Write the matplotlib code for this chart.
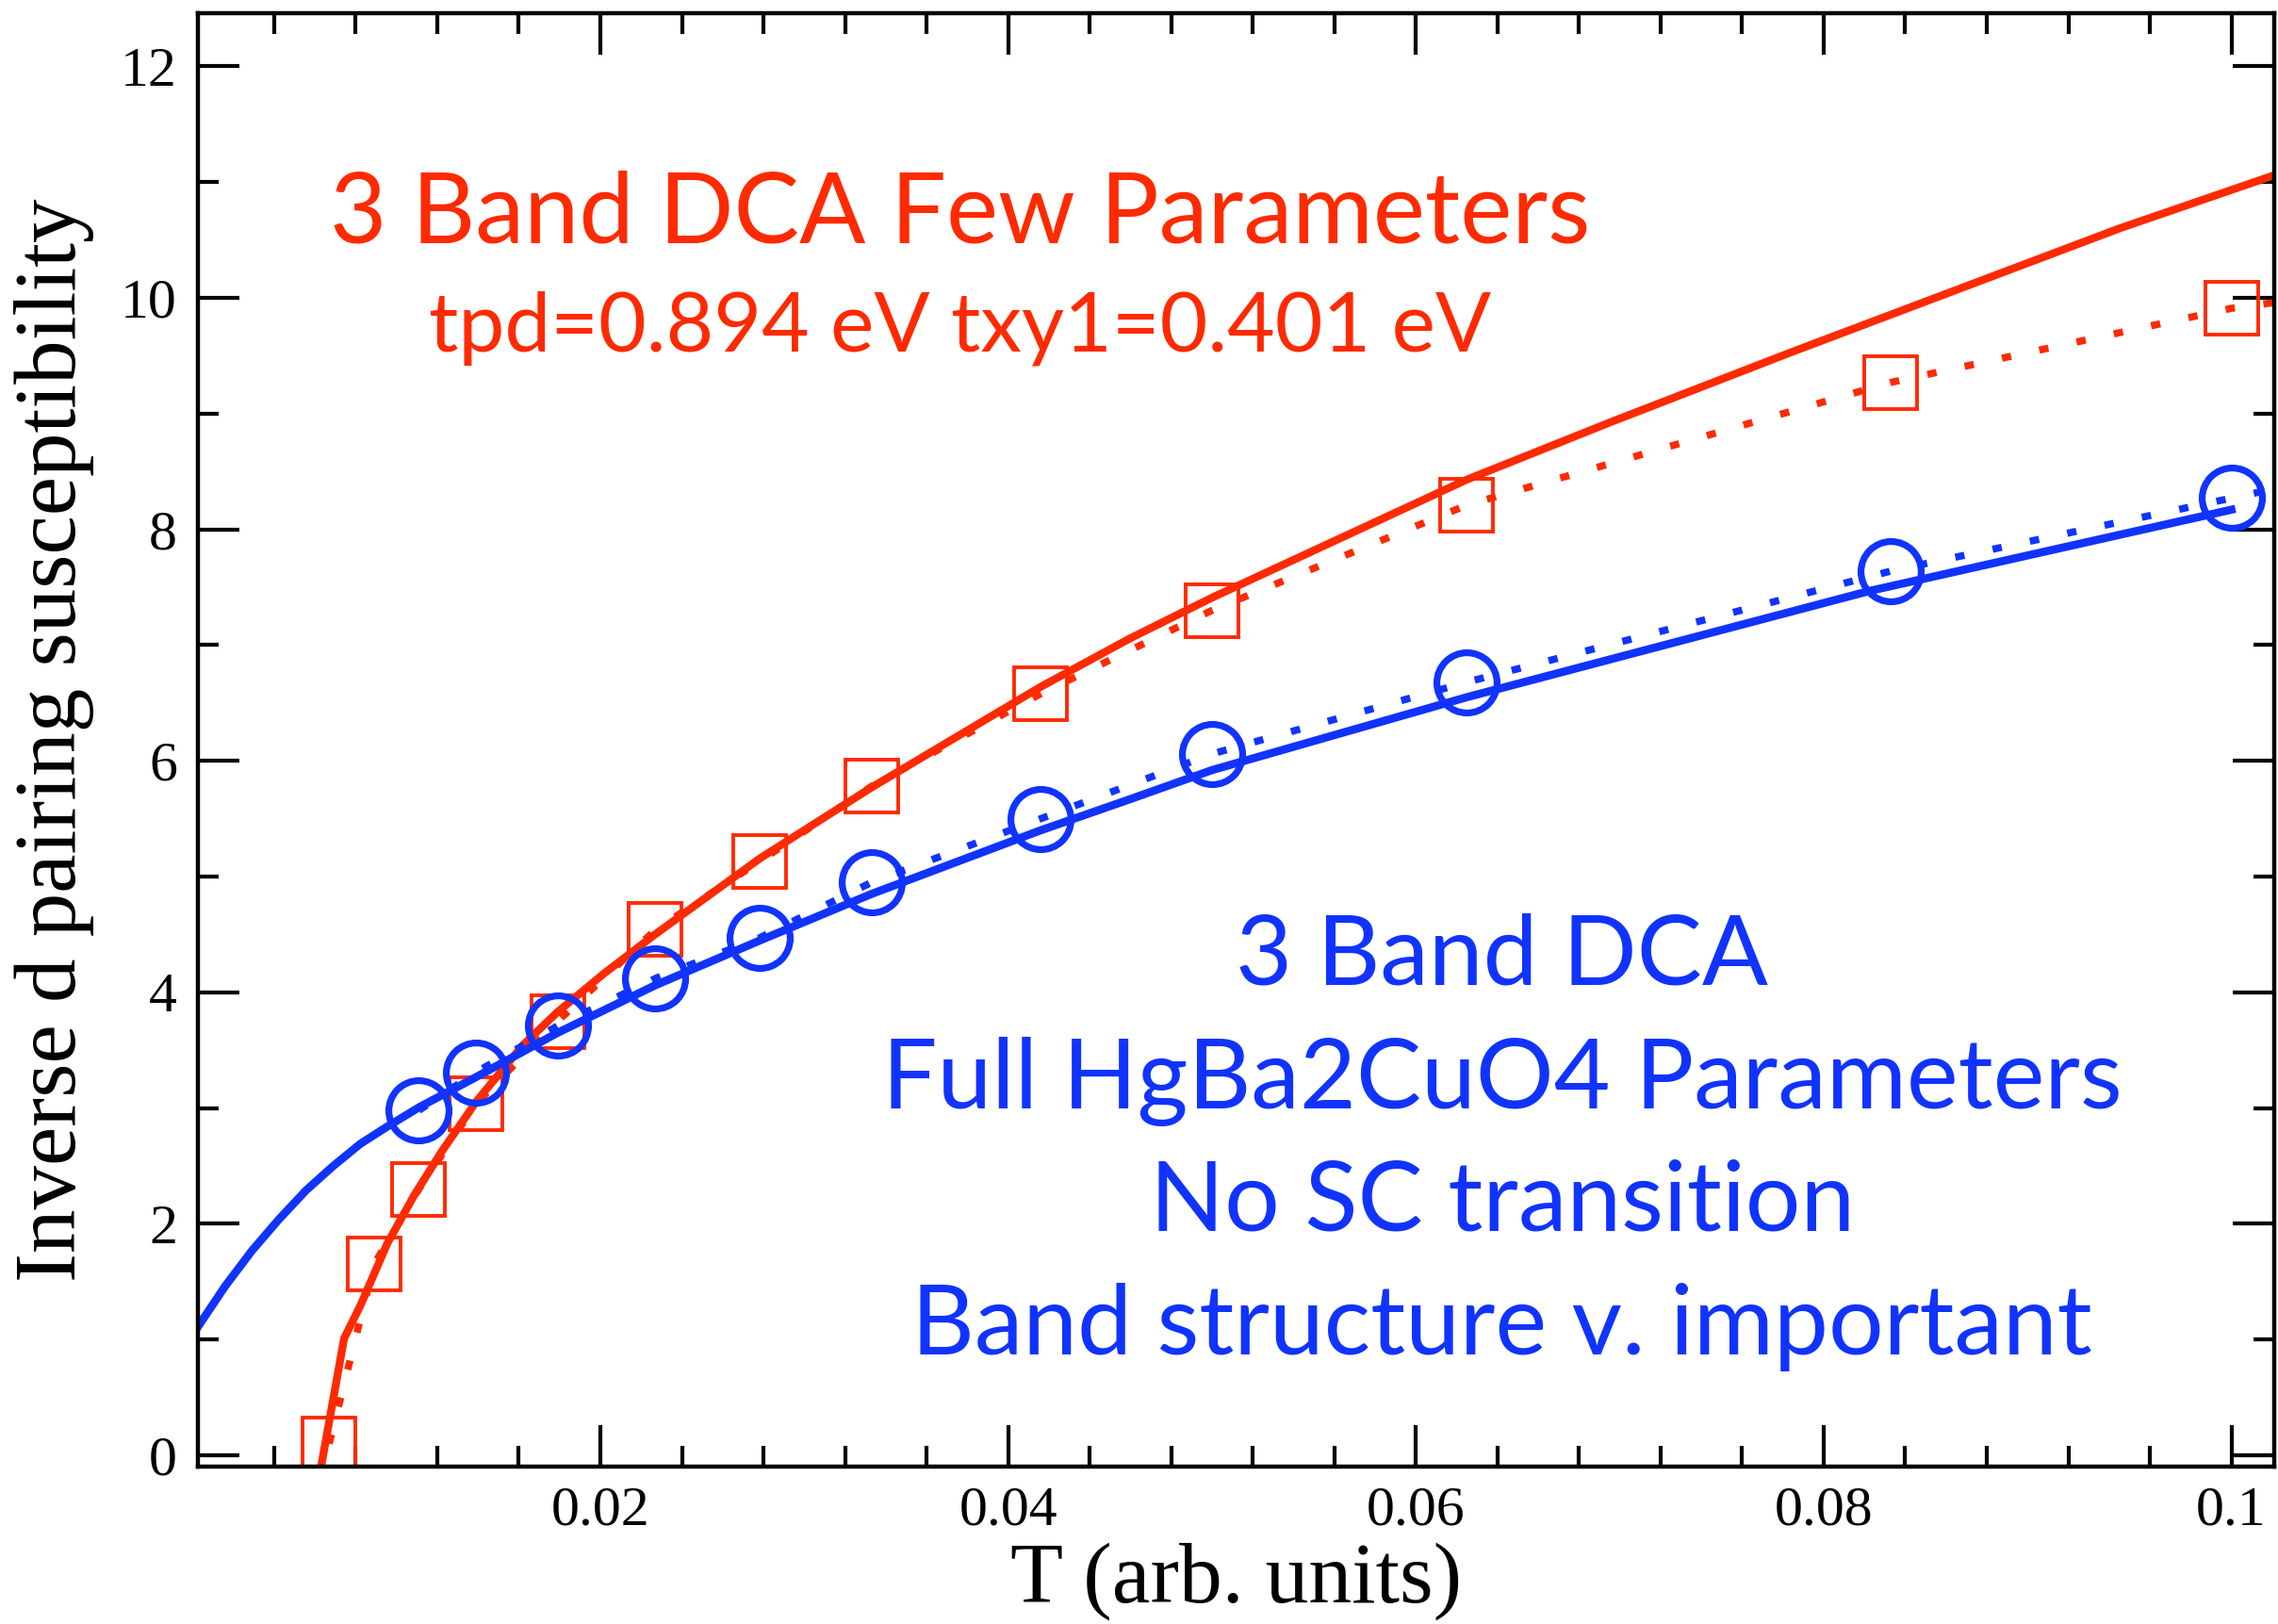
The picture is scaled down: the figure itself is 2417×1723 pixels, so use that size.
import matplotlib
matplotlib.use("Agg")
import matplotlib.pyplot as plt
from matplotlib.ticker import MultipleLocator

# data
t_red = [0.0067, 0.0089, 0.0111, 0.0139, 0.0179, 0.0227, 0.0278, 0.0333,
         0.0416, 0.0500, 0.0625, 0.0833, 0.1000]
chi_red = [0.10, 1.65, 2.30, 3.04, 3.75, 4.54, 5.13, 5.78,
           6.58, 7.30, 8.21, 9.27, 9.91]

t_blue = [0.0111, 0.0139, 0.0179, 0.0227, 0.0278, 0.0333, 0.0416,
          0.0500, 0.0625, 0.0833, 0.1000]
chi_blue = [2.98, 3.31, 3.71, 4.12, 4.47, 4.95, 5.50,
            6.06, 6.68, 7.64, 8.27]

# dotted lines run past the last point to the frame
t_edge = 0.1021
chi_red_edge = 9.96
chi_blue_edge = 8.35

# fitted curves (solid)
fit_red_t = [0.0063, 0.00743, 0.00822, 0.00955, 0.01088, 0.0122, 0.01393,
             0.01618, 0.0179, 0.02016, 0.02268, 0.02785, 0.0333, 0.0416,
             0.0460, 0.0500, 0.0625, 0.0696, 0.0784, 0.0945, 0.1021]
fit_red_chi = [-0.10, 1.01, 1.29, 1.83, 2.25, 2.62, 3.06,
               3.54, 3.83, 4.16, 4.50, 5.16, 5.77, 6.64,
               7.06, 7.41, 8.43, 8.93, 9.53, 10.60, 11.06]

fit_blue_t = [0.00026, 0.00159, 0.00292, 0.00424, 0.00557, 0.0069, 0.00822,
              0.00955, 0.01114, 0.01393, 0.0179, 0.02268, 0.02785, 0.0333,
              0.0416, 0.0460, 0.0500, 0.0625, 0.0823, 0.1000]
fit_blue_chi = [1.11, 1.46, 1.77, 2.04, 2.29, 2.50, 2.69,
                2.84, 3.01, 3.27, 3.65, 4.06, 4.45, 4.85,
                5.40, 5.67, 5.92, 6.55, 7.47, 8.17]

red = '#ff2a00'
blue = '#1133ff'

plt.rcParams['font.family'] = ['Liberation Serif', 'DejaVu Serif']

fig = plt.figure(figsize=(24.17, 17.23), dpi=100)
ax = fig.add_axes([210 / 2417, 1 - 1556 / 1723, 2203 / 2417, 1542 / 1723])

dots = (0, (1.3, 4.0))

ax.plot(t_red, chi_red, 's', ms=40, mfc='none', mec=red, mew=2.8)
ax.plot(t_red + [t_edge], chi_red + [chi_red_edge], color=red, lw=5.5, ls=dots)
ax.plot(fit_red_t, fit_red_chi, color=red, lw=6)

ax.plot(t_blue, chi_blue, 'o', ms=46, mfc='none', mec=blue, mew=5.2)
ax.plot(t_blue + [t_edge], chi_blue + [chi_blue_edge], color=blue, lw=5.5, ls=dots)
ax.plot(fit_blue_t, fit_blue_chi, color=blue, lw=6.2)

ax.set_xlim(0.00026, 0.1021)
ax.set_ylim(-0.098, 12.46)

ax.xaxis.set_major_locator(MultipleLocator(0.02))
ax.xaxis.set_minor_locator(MultipleLocator(0.004))
ax.yaxis.set_major_locator(MultipleLocator(2))
ax.yaxis.set_minor_locator(MultipleLocator(1))
ax.set_xticks([0.02, 0.04, 0.06, 0.08, 0.1])
ax.set_xticklabels(['0.02', '0.04', '0.06', '0.08', '0.1'])

ax.tick_params(which='both', direction='in', top=True, right=True, width=3,
               labelsize=43)
ax.tick_params(which='major', length=32)
ax.tick_params(which='minor', length=16)
ax.tick_params(axis='x', pad=15)
ax.tick_params(axis='y', pad=16)
for s in ax.spines.values():
    s.set_linewidth(3.2)

ax.set_xlabel('T (arb. units)', fontsize=66)
ax.set_ylabel('Inverse d pairing susceptibility', fontsize=67)
ax.xaxis.set_label_coords(0.5, -0.052)
ax.yaxis.set_label_coords(-0.05, 0.5)

sans = ['Lato', 'DejaVu Sans']
ax.text(0.03765, 10.48, '3 Band DCA Few Parameters', color=red, fontsize=75,
        family=sans, ha='center', va='baseline')
ax.text(0.03765, 9.54, 'tpd=0.894 eV txy1=0.401 eV', color=red, fontsize=63,
        family=sans, ha='center', va='baseline')

blue_lines = ['3 Band DCA', 'Full HgBa2CuO4 Parameters', 'No SC transition',
              'Band structure v. important']
for txt, yb in zip(blue_lines, [4.065, 2.998, 1.939, 0.872]):
    ax.text(0.06422, yb, txt, color=blue, fontsize=74.5, family=sans,
            ha='center', va='baseline')

fig.savefig('out.png', dpi=100)
